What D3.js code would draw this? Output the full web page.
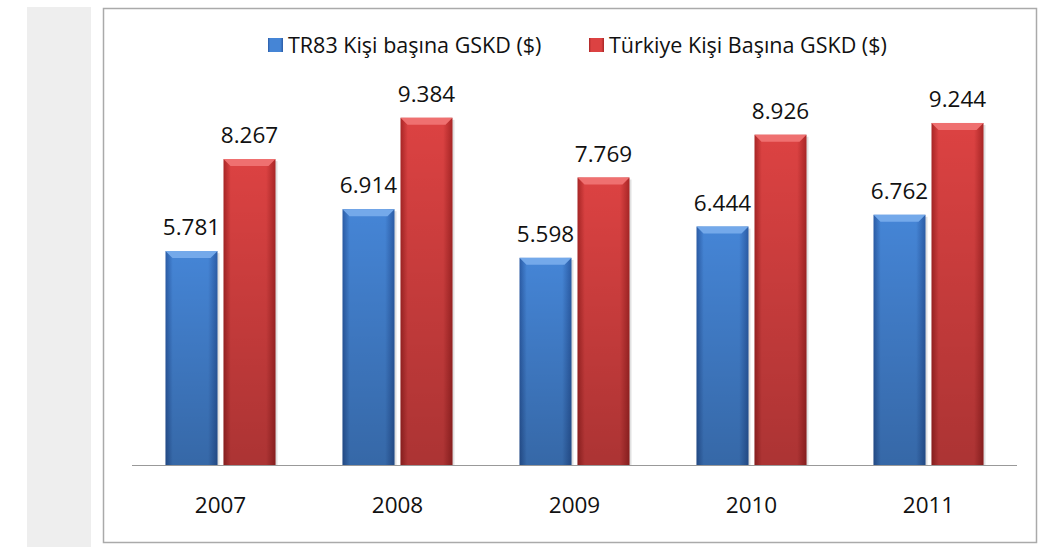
<!DOCTYPE html>
<html>
<head>
<meta charset="utf-8">
<title>TR83 GSKD</title>
<style>
  body { margin: 0; background: #fff; }
  text { font-family: "Open Sans", sans-serif; fill: #111; }
</style>
</head>
<body>
<div id="container"></div>
<script src="https://cdn.jsdelivr.net/npm/d3@7"></script>
<script>
// veriler
var years = ['2007', '2008', '2009', '2010', '2011']
var seriesNames = ['TR83 Kişi başına GSKD ($)', 'Türkiye Kişi Başına GSKD ($)']
var tr83 = [5781, 6914, 5598, 6444, 6762]
var turkiye = [8267, 9384, 7769, 8926, 9244]

var width = 1050, height = 547

var svg = d3.select('#container').append('svg')
    .attr('width', width)
    .attr('height', height)

// sol gri şerit
svg.append('rect').attr('x', 27).attr('y', 7).attr('width', 64).attr('height', 540).attr('fill', '#eeeeee')

// grafik çerçevesi
svg.append('rect').attr('x', 103.5).attr('y', 8.5).attr('width', 933).attr('height', 534)
    .attr('fill', '#fff').attr('stroke', '#aaaaaa').attr('stroke-width', 1.5)

var defs = svg.append('defs')
var colors = [
    { id: 'gBlue', edge: '#2b5ca6', mid: '#4585d6', top: '#74a9ea' },
    { id: 'gRed', edge: '#a92626', mid: '#dc4242', top: '#ef7070' }
]
colors.forEach(function (c) {
    var g = defs.append('linearGradient').attr('id', c.id).attr('x1', 0).attr('x2', 1).attr('y1', 0).attr('y2', 0)
    g.append('stop').attr('offset', '0%').attr('stop-color', c.edge)
    g.append('stop').attr('offset', '14%').attr('stop-color', c.mid)
    g.append('stop').attr('offset', '82%').attr('stop-color', c.mid)
    g.append('stop').attr('offset', '100%').attr('stop-color', c.edge)
})
// alta doğru koyulaşma
var shade = defs.append('linearGradient').attr('id', 'shade').attr('x1', 0).attr('x2', 0).attr('y1', 0).attr('y2', 1)
shade.append('stop').attr('offset', '0%').attr('stop-color', '#000').attr('stop-opacity', 0)
shade.append('stop').attr('offset', '100%').attr('stop-color', '#000').attr('stop-opacity', 0.22)

var x0 = d3.scaleBand().domain(years).range([132, 1017])
var y = d3.scaleLinear().domain([0, 10000]).range([465, 95])
var barW = 52, gap = 6

var data = years.map(function (yr, i) { return { year: yr, vals: [tr83[i], turkiye[i]] } })

var groups = svg.selectAll('g.cat').data(data).enter().append('g').attr('class', 'cat')

var bars = groups.selectAll('g.bar')
    .data(function (d) {
        var cx = x0(d.year) + x0.bandwidth() / 2
        return d.vals.map(function (v, s) {
            return { v: v, s: s, x: s === 0 ? cx - gap / 2 - barW : cx + gap / 2 }
        })
    })
    .enter().append('g').attr('class', 'bar')

// gölge
bars.append('rect')
    .attr('x', function (d) { return d.x + 2 })
    .attr('y', function (d) { return y(d.v) + 2 })
    .attr('width', barW)
    .attr('height', function (d) { return y(0) - y(d.v) - 2 })
    .attr('fill', 'rgba(0,0,0,0.12)')

bars.append('rect')
    .attr('x', function (d) { return d.x })
    .attr('y', function (d) { return y(d.v) })
    .attr('width', barW)
    .attr('height', function (d) { return y(0) - y(d.v) })
    .attr('fill', function (d) { return 'url(#' + colors[d.s].id + ')' })

bars.append('rect')
    .attr('x', function (d) { return d.x })
    .attr('y', function (d) { return y(d.v) })
    .attr('width', barW)
    .attr('height', function (d) { return y(0) - y(d.v) })
    .attr('fill', 'url(#shade)')

// üst pah
bars.append('path')
    .attr('d', function (d) {
        var t = y(d.v), b = 7
        return 'M' + d.x + ',' + t + 'L' + (d.x + barW) + ',' + t +
            'L' + (d.x + barW - b) + ',' + (t + b) + 'L' + (d.x + b) + ',' + (t + b) + 'Z'
    })
    .attr('fill', function (d) { return colors[d.s].top })

// değer etiketleri
bars.append('text')
    .attr('x', function (d) { return d.x + barW / 2 })
    .attr('y', function (d) { return y(d.v) - 16 })
    .attr('text-anchor', 'middle')
    .style('font-size', '22.5px')
    .text(function (d) { return d3.format(',')(d.v).replace(',', '.') })

// eksen çizgisi
svg.append('line').attr('x1', 132).attr('x2', 1017).attr('y1', 465.5).attr('y2', 465.5)
    .attr('stroke', '#999').attr('stroke-width', 1)

// yıl etiketleri
svg.selectAll('text.year').data(years).enter().append('text')
    .attr('class', 'year')
    .attr('x', function (d) { return x0(d) + x0.bandwidth() / 2 })
    .attr('y', 513)
    .attr('text-anchor', 'middle')
    .style('font-size', '22.5px')
    .text(function (d) { return d })

// lejant
var legX = [268, 589]
var leg = svg.selectAll('g.leg').data(seriesNames).enter().append('g').attr('class', 'leg')
leg.append('rect')
    .attr('x', function (d, i) { return legX[i] })
    .attr('y', 38).attr('width', 15).attr('height', 14)
    .attr('fill', function (d, i) { return 'url(#' + colors[i].id + ')' })
leg.append('text')
    .attr('x', function (d, i) { return legX[i] + 20 })
    .attr('y', 53)
    .style('font-size', '21.5px')
    .text(function (d) { return d })
</script>
</body>
</html>
